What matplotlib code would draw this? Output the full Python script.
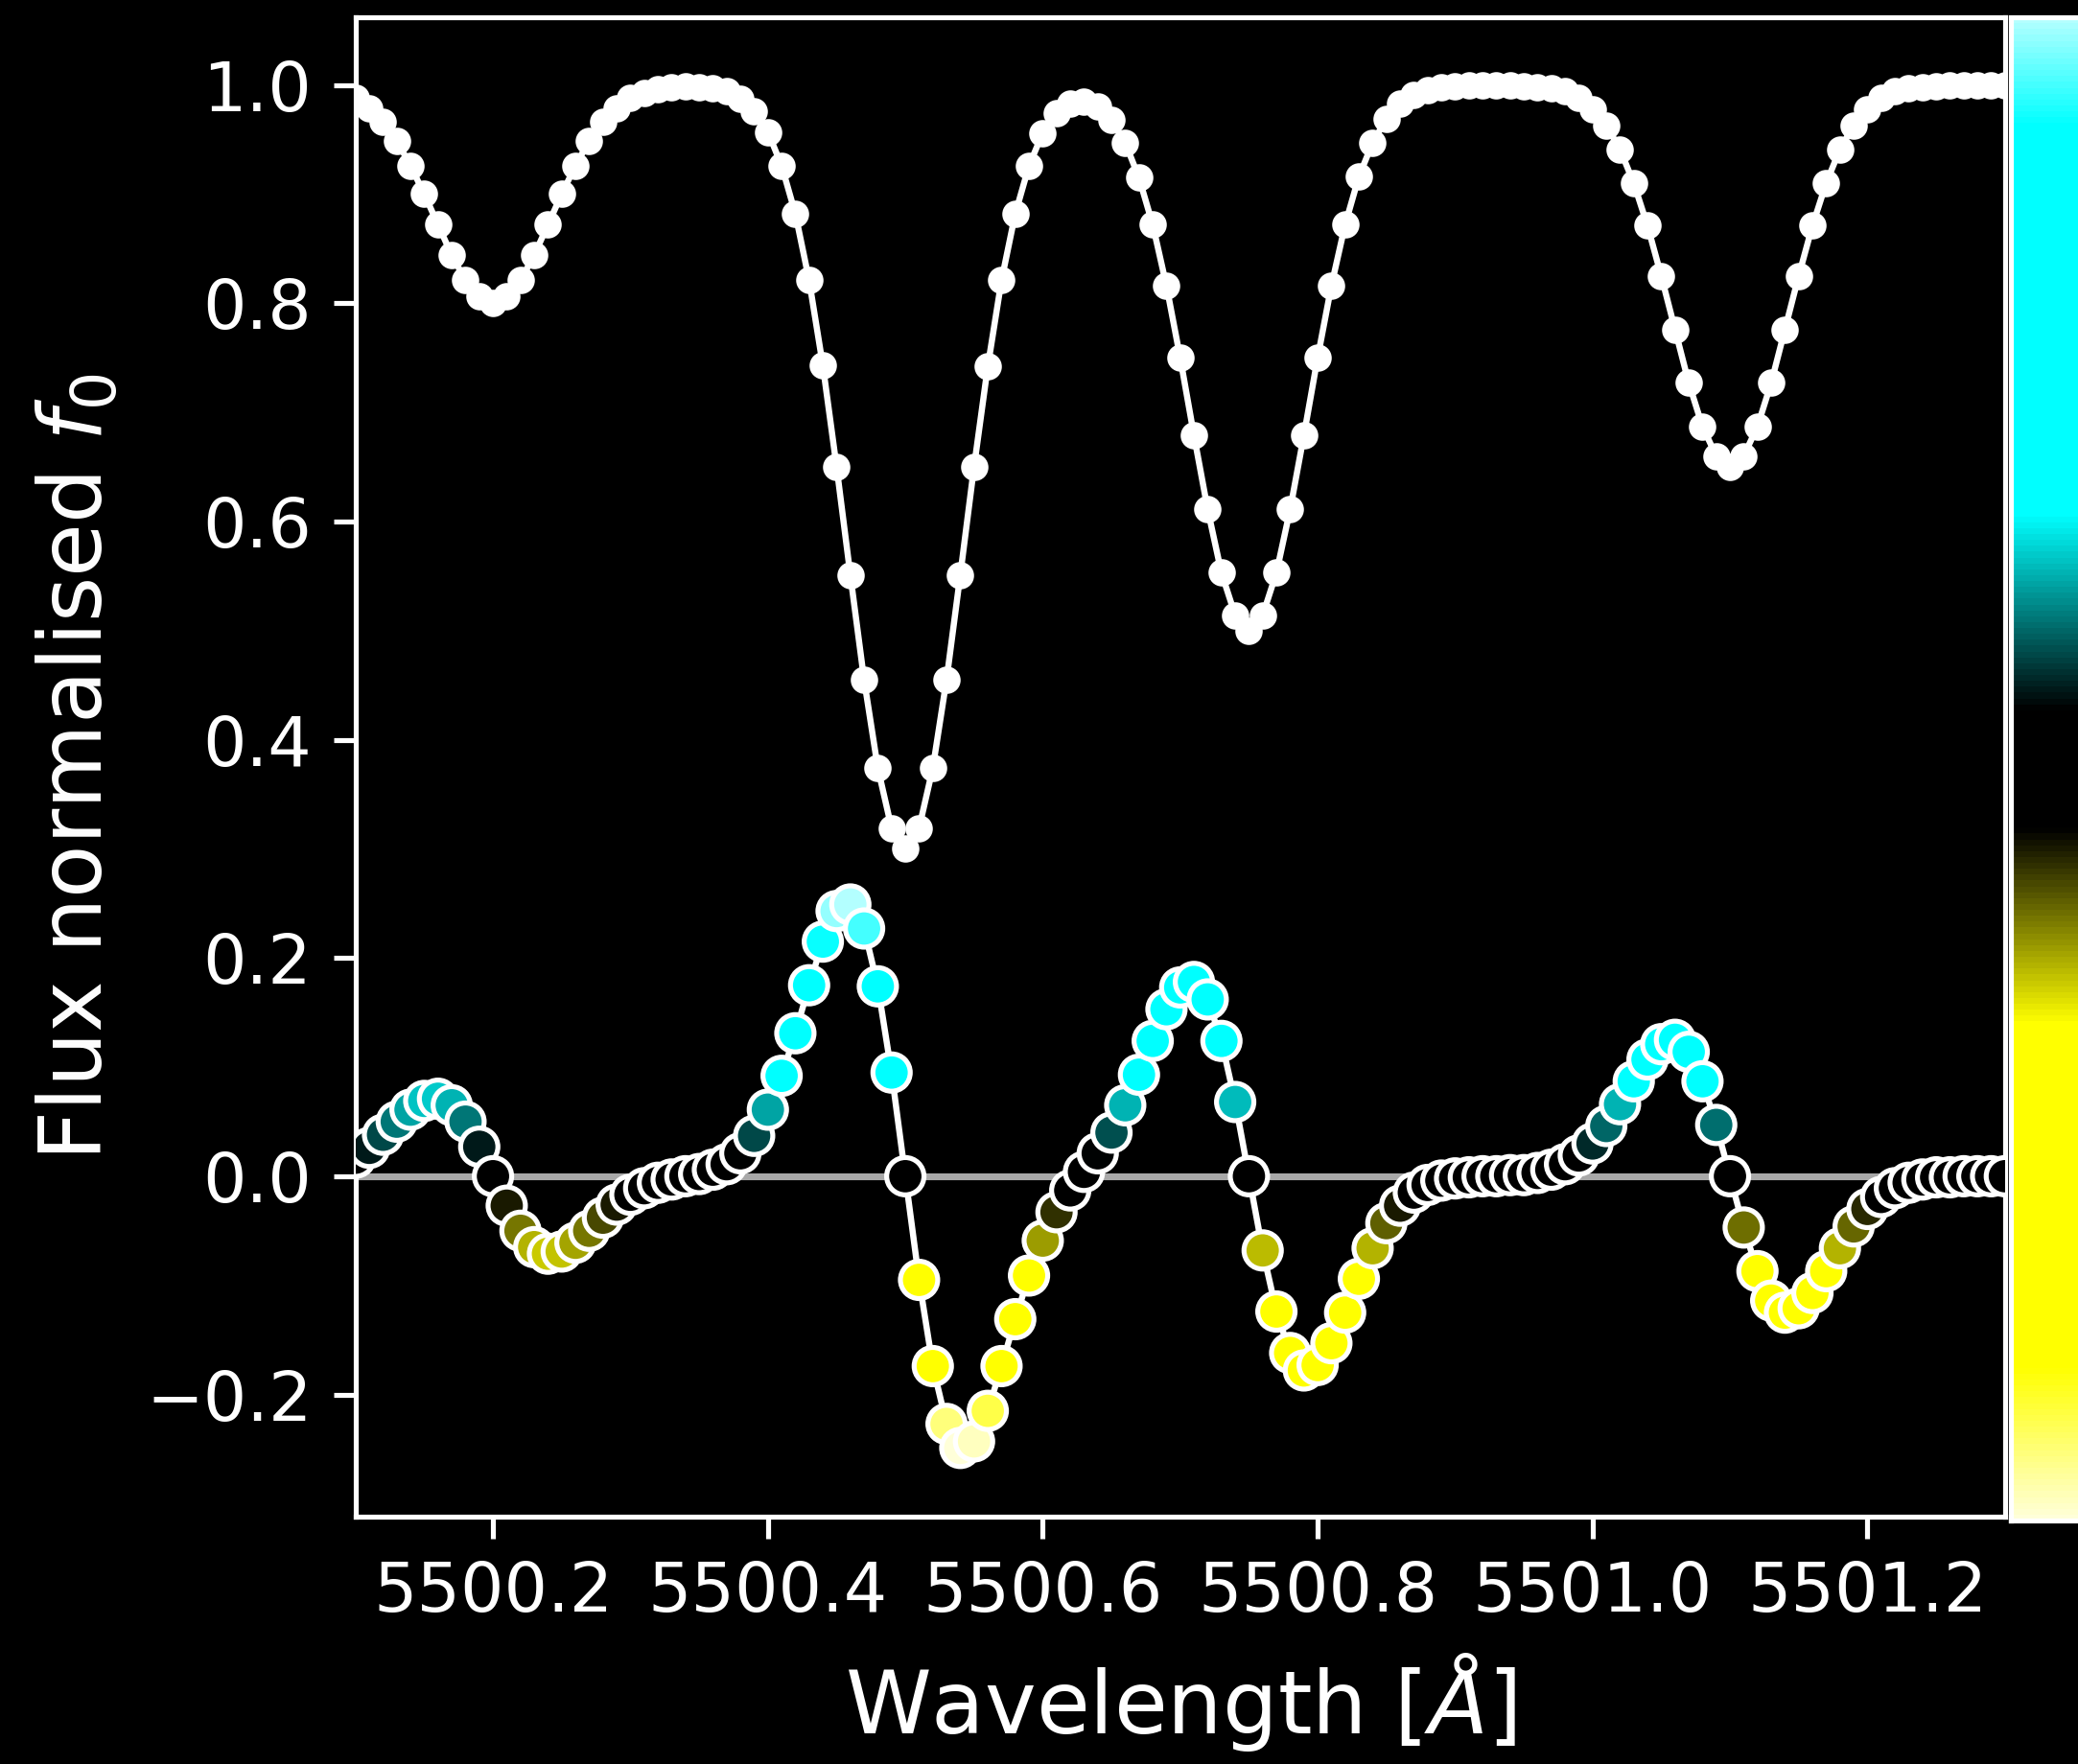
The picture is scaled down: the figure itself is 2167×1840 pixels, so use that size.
import numpy as np
import matplotlib
matplotlib.use('Agg')
import matplotlib.pyplot as plt
from matplotlib.colors import LinearSegmentedColormap

# Wavelength grid (Angstrom)
wavelength = [
    5500.10, 5500.11, 5500.12, 5500.13, 5500.14, 5500.15, 5500.16, 5500.17, 5500.18, 5500.19,
    5500.20, 5500.21, 5500.22, 5500.23, 5500.24, 5500.25, 5500.26, 5500.27, 5500.28, 5500.29,
    5500.30, 5500.31, 5500.32, 5500.33, 5500.34, 5500.35, 5500.36, 5500.37, 5500.38, 5500.39,
    5500.40, 5500.41, 5500.42, 5500.43, 5500.44, 5500.45, 5500.46, 5500.47, 5500.48, 5500.49,
    5500.50, 5500.51, 5500.52, 5500.53, 5500.54, 5500.55, 5500.56, 5500.57, 5500.58, 5500.59,
    5500.60, 5500.61, 5500.62, 5500.63, 5500.64, 5500.65, 5500.66, 5500.67, 5500.68, 5500.69,
    5500.70, 5500.71, 5500.72, 5500.73, 5500.74, 5500.75, 5500.76, 5500.77, 5500.78, 5500.79,
    5500.80, 5500.81, 5500.82, 5500.83, 5500.84, 5500.85, 5500.86, 5500.87, 5500.88, 5500.89,
    5500.90, 5500.91, 5500.92, 5500.93, 5500.94, 5500.95, 5500.96, 5500.97, 5500.98, 5500.99,
    5501.00, 5501.01, 5501.02, 5501.03, 5501.04, 5501.05, 5501.06, 5501.07, 5501.08, 5501.09,
    5501.10, 5501.11, 5501.12, 5501.13, 5501.14, 5501.15, 5501.16, 5501.17, 5501.18, 5501.19,
    5501.20, 5501.21, 5501.22, 5501.23, 5501.24, 5501.25, 5501.26, 5501.27, 5501.28, 5501.29,
    5501.30,
]

# Normalised flux f0 (upper white curve)
flux = [
    0.988, 0.979, 0.966, 0.949, 0.926, 0.900, 0.872, 0.844, 0.821, 0.806,
    0.800, 0.806, 0.821, 0.844, 0.872, 0.900, 0.926, 0.949, 0.966, 0.979,
    0.988, 0.993, 0.996, 0.998, 0.999, 0.998, 0.997, 0.994, 0.987, 0.976,
    0.957, 0.926, 0.882, 0.821, 0.743, 0.650, 0.551, 0.455, 0.374, 0.319,
    0.300, 0.319, 0.374, 0.455, 0.551, 0.650, 0.742, 0.821, 0.882, 0.926,
    0.956, 0.974, 0.983, 0.985, 0.980, 0.968, 0.947, 0.915, 0.872, 0.816,
    0.750, 0.679, 0.611, 0.553, 0.514, 0.500, 0.514, 0.553, 0.611, 0.679,
    0.750, 0.816, 0.872, 0.916, 0.947, 0.969, 0.983, 0.991, 0.995, 0.998,
    0.999, 1.000, 1.000, 1.000, 1.000, 0.999, 0.998, 0.997, 0.994, 0.988,
    0.978, 0.963, 0.941, 0.910, 0.871, 0.825, 0.776, 0.727, 0.687, 0.660,
    0.650, 0.660, 0.687, 0.727, 0.776, 0.825, 0.871, 0.910, 0.941, 0.963,
    0.978, 0.988, 0.994, 0.997, 0.998, 0.999, 1.000, 1.000, 1.000, 1.000,
    1.000,
]

# Lower curve (coloured markers)
flux_diff = [
    0.017, 0.026, 0.038, 0.050, 0.061, 0.069, 0.071, 0.065, 0.050, 0.027,
    0.000, -0.027, -0.050, -0.065, -0.071, -0.069, -0.061, -0.050, -0.038, -0.026,
    -0.017, -0.011, -0.006, -0.003, -0.000, 0.002, 0.006, 0.011, 0.021, 0.037,
    0.061, 0.092, 0.131, 0.175, 0.215, 0.243, 0.249, 0.227, 0.174, 0.095,
    0.000, -0.095, -0.174, -0.227, -0.249, -0.243, -0.215, -0.174, -0.131, -0.091,
    -0.059, -0.033, -0.013, 0.004, 0.021, 0.040, 0.065, 0.093, 0.124, 0.153,
    0.173, 0.178, 0.162, 0.124, 0.068, 0.000, -0.068, -0.124, -0.162, -0.178,
    -0.173, -0.153, -0.125, -0.094, -0.066, -0.043, -0.027, -0.015, -0.008, -0.004,
    -0.002, -0.001, 0.000, 0.000, 0.001, 0.001, 0.003, 0.006, 0.011, 0.019,
    0.030, 0.046, 0.066, 0.087, 0.107, 0.121, 0.125, 0.114, 0.087, 0.047,
    0.000, -0.047, -0.087, -0.114, -0.125, -0.121, -0.107, -0.087, -0.066, -0.046,
    -0.030, -0.019, -0.011, -0.006, -0.003, -0.001, -0.001, 0.000, 0.000, 0.000,
    0.000,
]

xticks = [5500.2, 5500.4, 5500.6, 5500.8, 5501.0, 5501.2]
yticks = [-0.2, 0.0, 0.2, 0.4, 0.6, 0.8, 1.0]

plt.style.use('dark_background')
DPI = 467
fig = plt.figure(figsize=(2167 / DPI, 1840 / DPI), dpi=DPI)
ax = fig.add_axes([0.1711, 0.1402, 0.7937, 0.8500])

cmap = LinearSegmentedColormap.from_list('cyan_black_yellow', [
    (0.00, (1.0, 1.0, 0.85)),
    (0.10, (1.0, 1.0, 0.0)),
    (0.33, (1.0, 1.0, 0.0)),
    (0.46, (0.0, 0.0, 0.0)),
    (0.54, (0.0, 0.0, 0.0)),
    (0.67, (0.0, 1.0, 1.0)),
    (0.93, (0.0, 1.0, 1.0)),
    (1.00, (0.7, 1.0, 1.0)),
])

ax.axhline(0, color='#a8a8a8', lw=1.1, zorder=1)
ax.plot(wavelength, flux, 'o-', color='white', ms=3.4, lw=1.0, zorder=2)
ax.plot(wavelength, flux_diff, '-', color='white', lw=1.0, zorder=2)
sc = ax.scatter(wavelength, flux_diff, c=flux_diff, cmap=cmap, s=36,
                edgecolors='white', linewidths=0.8, zorder=3)

ax.set_xlim(5500.1, 5501.3)
ax.set_ylim(-0.312, 1.062)
ax.set_xticks(xticks)
ax.set_yticks(yticks)
ax.ticklabel_format(useOffset=False)
ax.tick_params(labelsize=11)
ax.set_xlabel(r'Wavelength [$\AA$]', fontsize=14)
ax.set_ylabel(r'Flux normalised $f_0$', fontsize=14)

cax = fig.add_axes([0.9676, 0.1380, 0.06, 0.8522])
cb = fig.colorbar(sc, cax=cax)
cb.outline.set_edgecolor('white')
cax.tick_params(right=False, labelright=False)

fig.savefig('out.png', dpi=DPI, facecolor='black')
